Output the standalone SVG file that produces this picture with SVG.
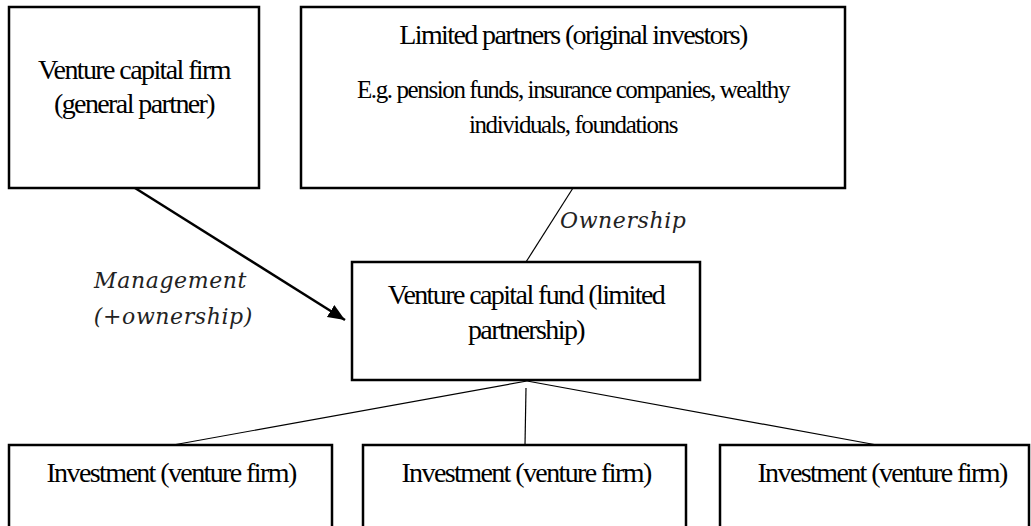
<svg xmlns="http://www.w3.org/2000/svg" width="1031" height="526" viewBox="0 0 1031 526">
  <style>
    .box { fill: #ffffff; stroke: #000000; stroke-width: 2.5; }
    .t { font-family: "Liberation Serif", "Times New Roman", serif; font-size: 28px; letter-spacing: -1.6px; fill: #000000; text-anchor: middle; }
    .ts { font-family: "Liberation Serif", "Times New Roman", serif; font-size: 25px; letter-spacing: -1.4px; fill: #000000; text-anchor: middle; }
    .lbl { font-family: "DejaVu Serif", serif; font-style: italic; font-size: 22px; letter-spacing: 0.6px; fill: #222222; }
    .thin { stroke: #000000; stroke-width: 1.2; fill: none; }
    .thick { stroke: #000000; stroke-width: 2.5; fill: none; }
  </style>
  <defs>
    <marker id="head" markerUnits="userSpaceOnUse" markerWidth="20" markerHeight="16" refX="17" refY="7" orient="auto">
      <path d="M0,0 L17,7 L0,14 Z" fill="#000000"/>
    </marker>
  </defs>

  <rect width="1031" height="526" fill="#ffffff"/>

  <!-- connectors -->
  <g id="connectors">
    <line class="thick" x1="135" y1="188" x2="345" y2="320" marker-end="url(#head)"/>
    <line class="thin" x1="573" y1="188" x2="526" y2="262"/>
    <line class="thin" x1="527" y1="381" x2="173" y2="445"/>
    <line class="thin" x1="527" y1="381" x2="877" y2="445"/>
    <line class="thin" x1="526" y1="388" x2="525" y2="445"/>
    <text class="lbl" x="247" y="288" text-anchor="end">Management</text>
    <text class="lbl" x="253" y="324" text-anchor="end">(+ownership)</text>
    <text class="lbl" x="560" y="228">Ownership</text>
  </g>

  <g id="gp">
    <rect class="box" x="9" y="7" width="250" height="181"/>
    <text class="t" x="134" y="79">Venture capital firm</text>
    <text class="t" x="134" y="113">(general partner)</text>
  </g>

  <g id="lp">
    <rect class="box" x="301" y="7" width="544" height="181"/>
    <text class="t" x="573" y="44">Limited partners (original investors)</text>
    <text class="ts" x="573" y="98">E.g. pension funds, insurance companies, wealthy</text>
    <text class="ts" x="573" y="133">individuals, foundations</text>
  </g>

  <g id="fund">
    <rect class="box" x="352" y="262" width="348" height="118"/>
    <text class="t" x="526" y="304">Venture capital fund (limited</text>
    <text class="t" x="526" y="339">partnership)</text>
  </g>

  <g id="inv1">
    <rect class="box" x="9" y="445" width="323" height="100"/>
    <text class="t" x="171" y="482">Investment (venture firm)</text>
  </g>

  <g id="inv2">
    <rect class="box" x="363" y="445" width="323" height="100"/>
    <text class="t" x="526" y="482">Investment (venture firm)</text>
  </g>

  <g id="inv3">
    <rect class="box" x="720" y="445" width="309" height="100"/>
    <text class="t" x="882" y="482">Investment (venture firm)</text>
  </g>
</svg>
